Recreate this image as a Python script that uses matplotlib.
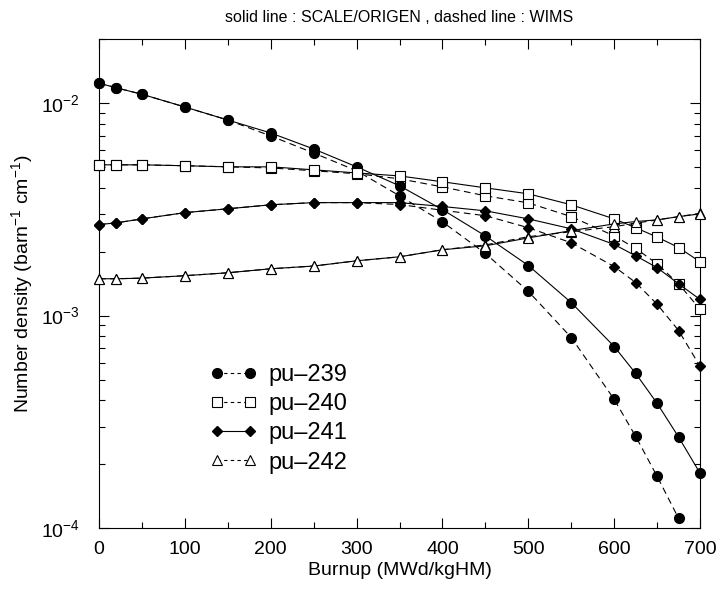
import matplotlib
matplotlib.use("Agg")
import matplotlib.pyplot as plt
from matplotlib.lines import Line2D
from matplotlib.ticker import MultipleLocator, LogLocator, NullFormatter

plt.rcParams['font.family'] = ['Liberation Sans', 'DejaVu Sans']
plt.rcParams['mathtext.fontset'] = 'custom'
plt.rcParams['mathtext.rm'] = 'Liberation Sans'
plt.rcParams['mathtext.it'] = 'Liberation Sans'

# burnup steps (MWd/kgHM)
burnup = [0, 20, 50, 100, 150, 200, 250, 300, 350, 400, 450, 500,
          550, 600, 625, 650, 675, 700]

# SCALE/ORIGEN (solid)
pu239_origen = [0.0124, 0.0118, 0.0110, 0.00958, 0.00832, 0.00723, 0.00608, 0.00501,
                0.00408, 0.00315, 0.00237, 0.00172, 0.00115, 0.000715, 0.000534,
                0.000386, 0.000268, 0.000181]
pu240_origen = [0.00512, 0.00512, 0.00512, 0.00507, 0.00501, 0.00501, 0.00485, 0.00469,
                0.00454, 0.00426, 0.00399, 0.00374, 0.00332, 0.00285, 0.00259,
                0.00234, 0.00209, 0.00179]
pu241_origen = [0.00268, 0.00273, 0.00285, 0.00305, 0.00318, 0.00332, 0.00340, 0.00340,
                0.00340, 0.00326, 0.00311, 0.00285, 0.00256, 0.00216, 0.00191,
                0.00168, 0.00141, 0.00119]
pu242_origen = [0.00149, 0.00149, 0.00150, 0.00154, 0.00159, 0.00166, 0.00171, 0.00181,
                0.00189, 0.00204, 0.00213, 0.00232, 0.00251, 0.00270, 0.00277,
                0.00282, 0.00292, 0.00301]

# WIMS (dashed); pu-239 drops below the axis after 675
pu239_wims = [0.0124, 0.0118, 0.0110, 0.00958, 0.00832, 0.00700, 0.00582, 0.00480,
              0.00366, 0.00276, 0.00196, 0.00130, 0.000788, 0.000403, 0.000270,
              0.000175, 0.000111]
pu240_wims = [0.00512, 0.00512, 0.00512, 0.00507, 0.00501, 0.00495, 0.00480, 0.00465,
              0.00440, 0.00403, 0.00366, 0.00339, 0.00292, 0.00237, 0.00207,
              0.00175, 0.00141, 0.00107]
pu241_wims = [0.00268, 0.00273, 0.00285, 0.00305, 0.00318, 0.00332, 0.00340, 0.00340,
              0.00333, 0.00313, 0.00295, 0.00259, 0.00220, 0.00170, 0.00143,
              0.00113, 0.00085, 0.000576]
pu242_wims = [0.00149, 0.00149, 0.00150, 0.00154, 0.00159, 0.00166, 0.00171, 0.00181,
              0.00189, 0.00204, 0.00215, 0.00235, 0.00248, 0.00262, 0.00272,
              0.00282, 0.00292, 0.00303]

isotopes = ["pu\u2013239", "pu\u2013240", "pu\u2013241", "pu\u2013242"]

styles = [
    dict(marker="o", ms=7, mfc="black", mec="black"),
    dict(marker="s", ms=6.5, mfc="white", mec="black", mew=0.8),
    dict(marker="D", ms=5.5, mfc="black", mec="black"),
    dict(marker="^", ms=7.5, mfc="white", mec="black", mew=0.8),
]
origen = [pu239_origen, pu240_origen, pu241_origen, pu242_origen]
wims = [pu239_wims, pu240_wims, pu241_wims, pu242_wims]

fig = plt.figure(figsize=(7.19, 5.92), dpi=100)
ax = fig.add_axes([0.1377, 0.108, 0.836, 0.826])

for st, ys_o, ys_w in zip(styles, origen, wims):
    ax.plot(burnup[:len(ys_w)], ys_w, color="black", lw=0.8, ls=(0, (6, 4)),
            clip_on=False, zorder=3, **st)
    ax.plot(burnup, ys_o, color="black", lw=0.8, ls="-",
            clip_on=False, zorder=4, **st)

ax.set_yscale("log")
ax.set_xlim(0, 700)
ax.set_ylim(1e-4, 2e-2)
ax.xaxis.set_major_locator(MultipleLocator(100))
ax.xaxis.set_minor_locator(MultipleLocator(50))
ax.yaxis.set_major_locator(LogLocator(base=10, numticks=10))
ax.yaxis.set_minor_locator(LogLocator(base=10, subs=range(2, 10), numticks=10))
ax.yaxis.set_minor_formatter(NullFormatter())
ax.tick_params(which="both", direction="in", top=True, right=True, width=0.8)
ax.tick_params(which="major", length=7, labelsize=14)
ax.tick_params(axis="x", which="major", pad=9)
ax.tick_params(axis="y", which="major", pad=14)
ax.tick_params(which="minor", length=4)
for sp in ax.spines.values():
    sp.set_linewidth(0.8)

ax.set_xlabel("Burnup (MWd/kgHM)", fontsize=14, labelpad=3)
ax.set_ylabel("Number density (barn$^{-1}$ cm$^{-1}$)", fontsize=14, labelpad=4)
ax.set_title("solid line : SCALE/ORIGEN , dashed line : WIMS", fontsize=11.5, pad=12)

leg_ls = [(0, (3, 3)), (0, (3, 3)), "-", (0, (3, 3))]
handles = [Line2D([], [], color="black", lw=0.8, ls=ls, **st) for st, ls in zip(styles, leg_ls)]
ax.legend(handles, isotopes, loc="upper left", bbox_to_anchor=(0.185, 0.335),
          frameon=False, numpoints=2, handlelength=2.0, fontsize=17,
          labelspacing=0.3, handletextpad=0.45, borderaxespad=0, borderpad=0)

fig.savefig("out.png", dpi=100)
